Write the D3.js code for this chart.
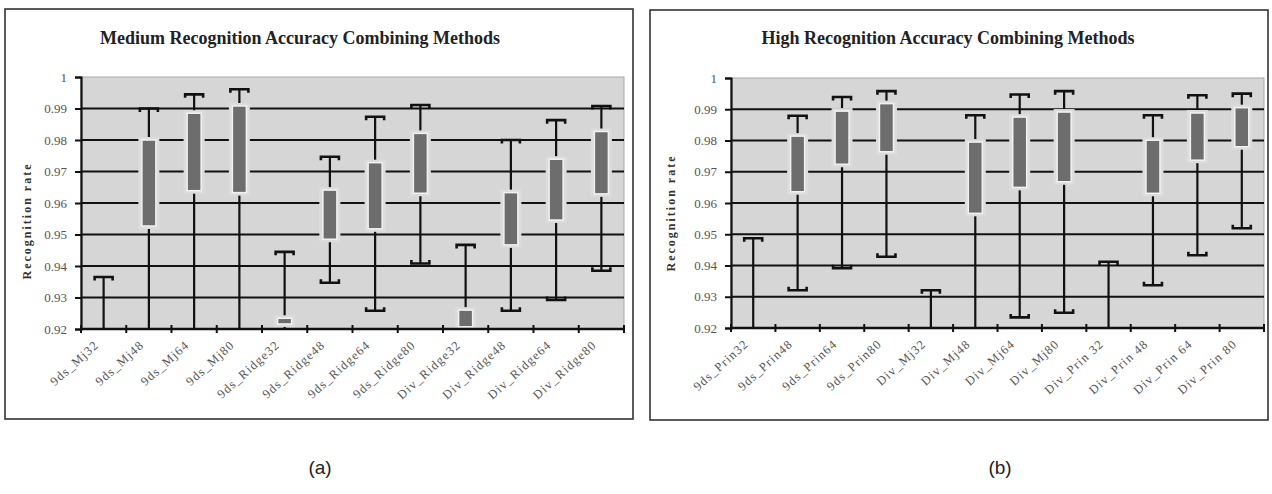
<!DOCTYPE html>
<html>
<head>
<meta charset="utf-8">
<script src="https://cdn.jsdelivr.net/npm/d3@7"></script>
<style>
  body { margin: 0; background: #fff; }
  svg { display: block; }
</style>
</head>
<body>
<div id="frame_div"></div>
<script>
// canvas
const FRAME_WIDTH = 1272;
const FRAME_HEIGHT = 494;

// y ticks shared by both panels
const yTicks = [0.92, 0.93, 0.94, 0.95, 0.96, 0.97, 0.98, 0.99, 1];
const yTickLabels = ["0.92", "0.93", "0.94", "0.95", "0.96", "0.97", "0.98", "0.99", "1"];

// panel (a)
const medCats = ["9ds_Mj32", "9ds_Mj48", "9ds_Mj64", "9ds_Mj80", "9ds_Ridge32", "9ds_Ridge48",
                 "9ds_Ridge64", "9ds_Ridge80", "Div_Ridge32", "Div_Ridge48", "Div_Ridge64", "Div_Ridge80"];
const medHigh = [0.9365, 0.9900, 0.9945, 0.9961, 0.9445, 0.9747, 0.9874, 0.9911, 0.9467, 0.9800, 0.9863, 0.9908];
const medQ3   = [0.9150, 0.9800, 0.9885, 0.9908, 0.9234, 0.9641, 0.9728, 0.9821, 0.9260, 0.9633, 0.9739, 0.9827];
const medQ1   = [0.9050, 0.9527, 0.9639, 0.9633, 0.9216, 0.9485, 0.9518, 0.9631, 0.9207, 0.9467, 0.9546, 0.9629];
const medLow  = [0.8900, 0.9100, 0.9100, 0.9100, 0.9150, 0.9347, 0.9258, 0.9408, 0.9150, 0.9258, 0.9292, 0.9385];

// panel (b)
const highCats = ["9ds_Prin32", "9ds_Prin48", "9ds_Prin64", "9ds_Prin80", "Div_Mj32", "Div_Mj48",
                  "Div_Mj64", "Div_Mj80", "Div_Prin 32", "Div_Prin 48", "Div_Prin 64", "Div_Prin 80"];
const highHigh = [0.9487, 0.9879, 0.9939, 0.9958, 0.9321, 0.9881, 0.9947, 0.9958, 0.9412, 0.9881, 0.9945, 0.9950];
const highQ3   = [0.9150, 0.9814, 0.9894, 0.9918, 0.9150, 0.9795, 0.9875, 0.9891, 0.9150, 0.9801, 0.9888, 0.9905];
const highQ1   = [0.9050, 0.9636, 0.9724, 0.9764, 0.9050, 0.9567, 0.9650, 0.9668, 0.9050, 0.9631, 0.9737, 0.9780];
const highLow  = [0.8900, 0.9321, 0.9391, 0.9428, 0.8900, 0.9100, 0.9234, 0.9249, 0.8900, 0.9337, 0.9433, 0.9519];

const SERIF = "'Liberation Serif', 'DejaVu Serif', serif";

const svg = d3.select("#frame_div")
  .append("svg")
    .attr("width", FRAME_WIDTH)
    .attr("height", FRAME_HEIGHT);

function drawPanel(opt) {
  const g = svg.append("g");

  // outer frame
  g.append("rect")
    .attr("x", opt.frame[0]).attr("y", opt.frame[1])
    .attr("width", opt.frame[2]).attr("height", opt.frame[3])
    .attr("fill", "#fff").attr("stroke", "#333").attr("stroke-width", 1.6);

  const x = d3.scaleBand().domain(opt.cats).range([opt.left, opt.right]);
  const y = d3.scaleLinear().domain([0.92, 1]).range([opt.bottom, opt.top]);
  const W = opt.right - opt.left;

  // plot background
  g.append("rect")
    .attr("x", opt.left).attr("y", opt.top)
    .attr("width", W).attr("height", opt.bottom - opt.top)
    .attr("fill", "#d6d6d6").attr("stroke", "#a8a8a8").attr("stroke-width", 1);

  const clipId = "clip" + opt.id;
  svg.append("clipPath").attr("id", clipId)
    .append("rect")
      .attr("x", opt.left).attr("y", opt.top)
      .attr("width", W).attr("height", opt.bottom - opt.top);

  // grid lines
  g.selectAll(".grid")
    .data(yTicks.filter(d => d > 0.92 && d < 1))
    .enter()
    .append("line")
      .attr("x1", opt.left).attr("x2", opt.right)
      .attr("y1", d => y(d)).attr("y2", d => y(d))
      .attr("stroke", "#111").attr("stroke-width", 2.2);

  const marks = g.append("g").attr("clip-path", "url(#" + clipId + ")");
  const rows = opt.cats.map((c, i) => ({cat: c, hi: opt.high[i], q3: opt.q3[i], q1: opt.q1[i], lo: opt.low[i]}));
  const cx = d => x(d.cat) + x.bandwidth() / 2;

  // whiskers
  marks.selectAll(".whisker")
    .data(rows)
    .enter()
    .append("line")
      .attr("x1", cx).attr("x2", cx)
      .attr("y1", d => y(d.hi)).attr("y2", d => y(d.lo))
      .attr("stroke", "#111").attr("stroke-width", 2.2);

  // caps: bracket shape, ends bent toward the box
  const capW = 9, capT = 3.5;
  marks.selectAll(".capHi")
    .data(rows)
    .enter()
    .append("path")
      .attr("d", d => {
        const X = cx(d), Y = y(d.hi);
        return `M${X - capW},${Y + capT}V${Y}H${X + capW}V${Y + capT}`;
      })
      .attr("fill", "none").attr("stroke", "#111").attr("stroke-width", 2.6);

  marks.selectAll(".capLo")
    .data(rows)
    .enter()
    .append("path")
      .attr("d", d => {
        const X = cx(d), Y = y(d.lo);
        return `M${X - capW},${Y - capT}V${Y}H${X + capW}V${Y - capT}`;
      })
      .attr("fill", "none").attr("stroke", "#111").attr("stroke-width", 2.6);

  // halo behind boxes (breaks the grid lines)
  const boxW = 14;
  marks.selectAll(".halo")
    .data(rows)
    .enter()
    .append("rect")
      .attr("x", d => cx(d) - boxW / 2 - 3.5)
      .attr("y", d => y(d.q3) - 3)
      .attr("width", boxW + 7)
      .attr("height", d => y(d.q1) - y(d.q3) + 6)
      .attr("fill", "#dcdcdc");

  marks.selectAll(".box")
    .data(rows)
    .enter()
    .append("rect")
      .attr("x", d => cx(d) - boxW / 2)
      .attr("y", d => y(d.q3))
      .attr("width", boxW)
      .attr("height", d => y(d.q1) - y(d.q3))
      .attr("fill", "#6d6d6d")
      .attr("stroke", "#f2f2f2").attr("stroke-width", 1.5);

  // y axis
  const yAxis = d3.axisLeft(y)
    .tickValues(yTicks)
    .tickSize(6)
    .tickPadding(8)
    .tickFormat((d, i) => yTickLabels[i]);
  const ya = g.append("g")
    .attr("transform", `translate(${opt.left},0)`)
    .call(yAxis);
  ya.select(".domain").attr("stroke", "#111").attr("stroke-width", 2.2);
  ya.selectAll(".tick line").attr("stroke", "#111").attr("stroke-width", 2);
  ya.selectAll(".tick text")
    .attr("font-family", SERIF).attr("font-size", 13).attr("fill", "#555");

  // x axis: ticks on band edges, labels on band centres
  const xa = g.append("g")
    .attr("transform", `translate(0,${opt.bottom})`)
    .call(d3.axisBottom(x).tickSize(0).tickPadding(0));
  xa.select(".domain").remove();
  xa.selectAll(".tick text")
    .attr("font-family", SERIF).attr("font-size", 12.5).attr("fill", "#555")
    .attr("letter-spacing", 1.2)
    .attr("text-anchor", "end")
    .attr("y", 0)
    .attr("dy", 0)
    .attr("transform", "translate(-4,17) rotate(-42)");

  g.append("line")
    .attr("x1", opt.left - 1).attr("x2", opt.right)
    .attr("y1", opt.bottom).attr("y2", opt.bottom)
    .attr("stroke", "#111").attr("stroke-width", 2.4);

  const edges = opt.cats.map(c => x(c)).concat([opt.right]);
  g.selectAll(".xtick")
    .data(edges)
    .enter()
    .append("line")
      .attr("x1", d => d).attr("x2", d => d)
      .attr("y1", opt.bottom - 4).attr("y2", opt.bottom + 4)
      .attr("stroke", "#111").attr("stroke-width", 2);

  // title
  g.append("text")
    .attr("x", opt.titleX).attr("y", 44)
    .attr("text-anchor", "middle")
    .attr("font-family", SERIF).attr("font-weight", "bold")
    .attr("font-size", 18).attr("fill", "#222")
    .text(opt.title);

  // y label
  g.append("text")
    .attr("transform", `translate(${opt.ylabX},${opt.ylabY}) rotate(-90)`)
    .attr("text-anchor", "middle")
    .attr("font-family", SERIF).attr("font-weight", "bold")
    .attr("font-size", 12).attr("letter-spacing", 2).attr("fill", "#333")
    .text("Recognition rate");

  // panel tag
  svg.append("text")
    .attr("x", opt.tagX).attr("y", 474)
    .attr("text-anchor", "middle")
    .attr("font-family", "'Liberation Sans', Arial, sans-serif")
    .attr("font-size", 19).attr("fill", "#222")
    .text(opt.tag);
}

drawPanel({
  id: "a", frame: [5, 9, 628, 410],
  left: 81, right: 624, top: 77, bottom: 329,
  cats: medCats, high: medHigh, q3: medQ3, q1: medQ1, low: medLow,
  title: "Medium Recognition Accuracy Combining Methods", titleX: 300,
  ylabX: 31, ylabY: 221, tag: "(a)", tagX: 320
});

drawPanel({
  id: "b", frame: [650, 10, 618, 410],
  left: 731, right: 1264, top: 78, bottom: 328,
  cats: highCats, high: highHigh, q3: highQ3, q1: highQ1, low: highLow,
  title: "High Recognition Accuracy Combining Methods", titleX: 948,
  ylabX: 675, ylabY: 213, tag: "(b)", tagX: 1000
});
</script>
</body>
</html>
